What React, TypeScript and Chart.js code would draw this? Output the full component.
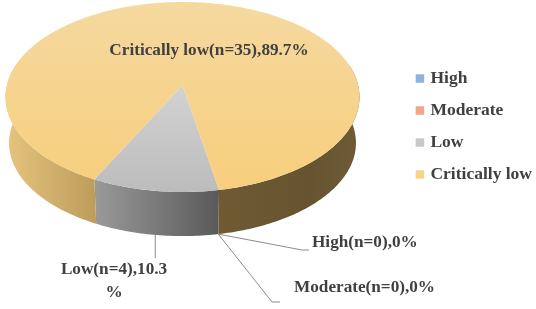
import React, { useEffect, useRef } from "react";
import { Chart, registerables } from "chart.js";

Chart.register(...registerables);

const categories = ["High", "Moderate", "Low", "Critically low"];
const counts = [0, 0, 4, 35];
const percents = ["0", "0", "10.3", "89.7"];
const colors = ["#8fb4dc", "#efa68a", "#c8c8c8", "#f7d388"];
const TEXT = "#404040";
const FONT = '"Liberation Serif", "Times New Roman", serif';

// projection of the pie disc (perspective circle -> ellipse)
const CX = 182.5, CY = 97, RX = 177, RY = 95, APEX = -12, DEPTH = 46, BASE = 0.98;
const K = APEX / RY;
const A = (RX * (RY - K * APEX)) / Math.sqrt(RY * RY - APEX * APEX);

function proj(t: number, r = 1) {
  const u = Math.cos(t) * r, v = Math.sin(t) * r;
  const d = 1 + K * v;
  return { x: (A * u) / d, y: (RY * v + APEX) / d };
}
const top = (t: number, r = 1) => { const p = proj(t, r); return { x: CX + p.x, y: CY + p.y }; };
const bot = (t: number) => { const p = proj(t); return { x: CX + p.x * BASE, y: CY + DEPTH + p.y * BASE }; };

const pie3d = {
  id: "pie3d",
  beforeDatasetDraw(chart: any) {
    const ctx: CanvasRenderingContext2D = chart.ctx;
    const arcs: any[] = chart.getDatasetMeta(0).data;
    const wall = (stops: [number, string][]) => {
      const g = ctx.createLinearGradient(CX - RX, 0, CX + RX, 0);
      stops.forEach(([o, c]) => g.addColorStop(o, c));
      return g;
    };
    const wallFill = [
      null, null,
      [[0.24, "#9c9c9c"], [0.6, "#5a5a5a"]],
      [[0, "#e4c47e"], [0.24, "#bf9f5c"], [0.6, "#6f5a33"], [0.85, "#665430"], [1, "#6e5a36"]],
    ] as any[];
    const topFill = [
      null, null,
      ["#d2d2d2", "#bcbcbc"],
      ["#f5d9a0", "#f7ce7c"],
    ] as any[];
    const lo = (-12 * Math.PI) / 180, hi = (192 * Math.PI) / 180;
    ctx.save();
    // side walls
    arcs.forEach((arc, i) => {
      const { startAngle, endAngle } = arc.getProps(["startAngle", "endAngle"]);
      if (endAngle - startAngle <= 0) return;
      for (const turn of [-2, 0, 2]) {
        const a = Math.max(startAngle + turn * Math.PI, lo);
        const b = Math.min(endAngle + turn * Math.PI, hi);
        if (b <= a) continue;
        const n = Math.max(4, Math.ceil((b - a) * 60));
        ctx.beginPath();
        for (let k = 0; k <= n; k++) {
          const p = top(a + ((b - a) * k) / n);
          k ? ctx.lineTo(p.x, p.y) : ctx.moveTo(p.x, p.y);
        }
        for (let k = n; k >= 0; k--) {
          const p = bot(a + ((b - a) * k) / n);
          ctx.lineTo(p.x, p.y);
        }
        ctx.closePath();
        ctx.fillStyle = wall(wallFill[i]);
        ctx.fill();
      }
    });
    // top faces
    arcs.forEach((arc, i) => {
      const { startAngle, endAngle } = arc.getProps(["startAngle", "endAngle"]);
      if (endAngle - startAngle <= 0) return;
      const n = Math.ceil((endAngle - startAngle) * 80);
      ctx.beginPath();
      const c = top(0, 0);
      ctx.moveTo(c.x, c.y);
      for (let k = 0; k <= n; k++) {
        const p = top(startAngle + ((endAngle - startAngle) * k) / n);
        ctx.lineTo(p.x, p.y);
      }
      ctx.closePath();
      const [c0, c1] = topFill[i];
      const g = ctx.createLinearGradient(0, CY - RY, 0, CY + RY);
      g.addColorStop(i === 2 ? 0.45 : 0, c0);
      g.addColorStop(1, c1);
      ctx.fillStyle = g;
      ctx.fill();
    });
    ctx.restore();
    return false;
  },
  afterDatasetsDraw(chart: any) {
    const ctx: CanvasRenderingContext2D = chart.ctx;
    const arcs: any[] = chart.getDatasetMeta(0).data;
    const mid = (i: number) => {
      const { startAngle, endAngle } = arcs[i].getProps(["startAngle", "endAngle"]);
      return (startAngle + endAngle) / 2;
    };
    ctx.save();
    ctx.strokeStyle = "#8c8c8c";
    ctx.lineWidth = 1;
    const poly = (pts: number[][]) => {
      ctx.beginPath();
      pts.forEach(([x, y], k) => (k ? ctx.lineTo(x, y) : ctx.moveTo(x, y)));
      ctx.stroke();
    };
    const h = bot(mid(0)), m = bot(mid(1)), l = bot(mid(2));
    poly([[h.x, h.y], [302, 250], [309, 250]]);
    poly([[m.x, m.y], [272, 302], [280, 302]]);
    poly([[l.x, l.y], [l.x, 258]]);

    ctx.fillStyle = TEXT;
    ctx.font = `bold 17.2px ${FONT}`;
    ctx.textBaseline = "middle";
    const lab = (i: number) => `${categories[i]}(n=${counts[i]}),${percents[i]}%`;
    ctx.textAlign = "center";
    ctx.fillText(lab(3), 209, 51);
    const low = lab(2);
    ctx.fillText(low.slice(0, -1), 114, 270);
    ctx.fillText(low.slice(-1), 114, 293);
    ctx.textAlign = "left";
    ctx.fillText(lab(0), 312, 243);
    ctx.fillText(lab(1), 294, 288);
    ctx.restore();
  },
};

export default function App() {
  const ref = useRef<HTMLCanvasElement>(null);
  useEffect(() => {
    const chart = new Chart(ref.current!, {
      type: "pie",
      data: {
        labels: categories,
        datasets: [{ data: counts, backgroundColor: colors, borderColor: colors, borderWidth: 5 }],
      },
      options: {
        animation: false,
        responsive: false,
        rotation: 169.5,
        layout: { padding: { bottom: 56, right: -6 } },
        plugins: {
          tooltip: { enabled: false },
          legend: {
            position: "right",
            labels: {
              color: TEXT,
              boxWidth: 3.5,
              boxHeight: 3.5,
              padding: 14.5,
              font: { family: FONT, size: 17.5, weight: "bold" },
            },
          },
        },
      },
      plugins: [pie3d],
    } as any);
    return () => chart.destroy();
  }, []);
  return (
    <div style={{ position: "absolute", left: 0, top: 0, width: 536, height: 309 }}>
      <canvas ref={ref} width={536} height={309} style={{ display: "block" }} />
    </div>
  );
}
